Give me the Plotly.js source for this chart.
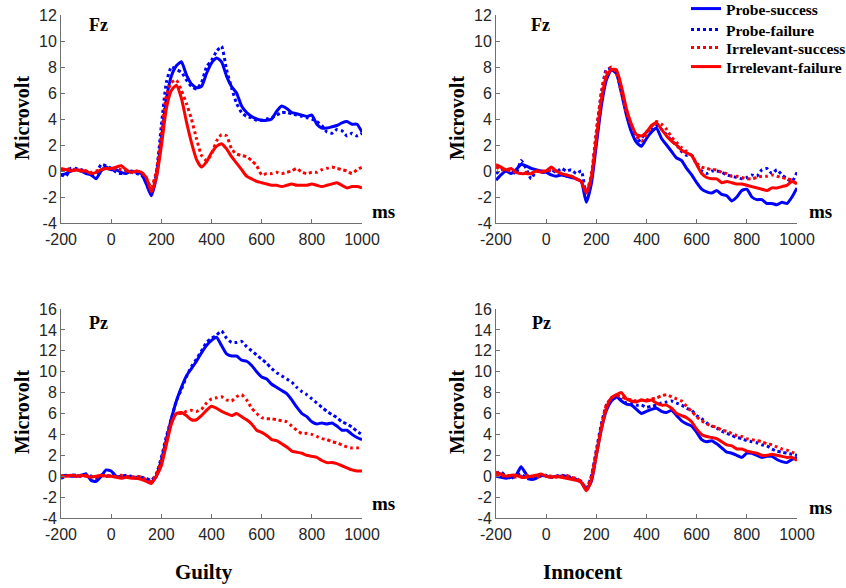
<!DOCTYPE html>
<html>
<head>
<meta charset="utf-8">
<script src="https://cdn.plot.ly/plotly-3.0.1.min.js"></script>
<style>html,body{margin:0;padding:0;background:#fff;}#chart{width:846px;height:588px;}</style>
</head>
<body>
<div id="chart"></div>
<script>
// time axis (ms)
const timeMs = [-200,-180,-160,-140,-120,-100,-80,-60,-40,-20,0,20,40,60,80,100,120,140,160,180,200,220,240,260,280,300,320,340,360,380,400,420,440,460,480,500,520,540,560,580,600,620,640,660,680,700,720,740,760,780,800,820,840,860,880,900,920,940,960,980,1000];

const seriesNames = ["Probe-success","Probe-failure","Irrelevant-success","Irrelevant-failure"];
const panelLabels = ["Fz","Fz","Pz","Pz"];
const groupLabels = ["Guilty","Innocent"];
const xTicks = [-200,0,200,400,600,800,1000];
const yTicksFz = [-4,-2,0,2,4,6,8,10,12];
const yTicksPz = [-4,-2,0,2,4,6,8,10,12,14,16];

// Guilty - Fz
const guiltyFzProbeSuccess = [-0.3,-0.2,0,0.1,0,-0.2,-0.3,-0.6,0,0.3, 0.1,0.1,-0.1,-0.2,0,-0.1,-0.2,-1.0,-1.9,-0.5, 2.4,5.5,7.3,8.1,8.4,7.4,6.7,6.4,6.5,7.5, 8.3,8.7,8.4,7.3,6.5,6.0,5.0,4.5,4.2,4.0, 3.9,3.9,4.0,4.6,5.0,4.8,4.5,4.4,4.3,4.2, 4.3,3.6,3.3,3.3,3.4,3.5,3.7,3.8,3.6,3.6, 3.0];
const guiltyFzProbeFailure = [-0.3,-0.4,0.2,0.2,0.1,0,-0.3,-0.2,0.5,0.4, 0.2,-0.1,-0.2,0,-0.1,-0.2,-0.3,-0.8,-1.7,-0.2, 3.5,6.8,8.0,7.8,7.6,7.0,6.5,6.3,6.8,8.0, 8.5,9.2,9.6,7.8,6.4,5.2,4.5,4.2,4.1,3.9, 3.9,4.0,4.1,4.3,4.5,4.5,4.4,4.3,4.2,4.1, 4.0,3.8,3.5,3.0,2.9,3.2,3.1,2.7,2.9,2.7, 2.9];
const guiltyFzIrrSuccess = [0.1,0.1,0.2,0,0.1,0,-0.1,0,0.1,0.2, 0.1,0.2,0.1,0,-0.1,0,-0.1,-0.5,-1.3,0, 2.8,5.8,6.8,7.0,6.2,5.2,4.0,2.5,1.2,0.8, 1.3,2.3,2.8,2.7,1.7,1.3,1.2,1.1,0.8,0.4, -0.3,-0.2,-0.2,-0.1,-0.2,-0.1,0,0.2,-0.1,-0.2, -0.1,-0.1,0.1,0.2,0.3,0.2,0.1,0,-0.2,0.1, 0.3];
const guiltyFzIrrFailure = [0.2,0.1,0,0.1,0,0,-0.2,-0.1,0.1,0.2, 0.2,0.3,0.4,0.1,-0.1,0,-0.1,-0.5,-1.6,-0.5, 1.9,4.8,6.2,6.6,5.6,3.8,2.2,0.9,0.3,0.7, 1.4,1.9,2.1,1.7,1.1,0.6,0.1,-0.4,-0.6,-0.8, -0.9,-1.0,-1.1,-1.1,-1.2,-1.1,-1.0,-1.1,-1.1,-1.1, -1.0,-1.1,-1.2,-1.1,-1.0,-0.9,-1.1,-1.3,-1.2,-1.2, -1.3];

// Innocent - Fz
const innocentFzProbeSuccess = [-0.7,-0.3,0,-0.2,0.1,0.5,0.4,0.2,0.1,0, -0.1,-0.3,-0.4,-0.3,-0.4,-0.5,-0.6,-0.8,-2.4,-1.0, 2,5,7,7.8,7.5,6,4.3,3.0,2.2,1.9, 2.5,3.0,3.3,2.5,2.0,1.5,1.0,0.8,0.2,-0.3, -0.9,-1.4,-1.6,-1.7,-1.5,-1.8,-1.9,-2.3,-2.0,-1.5, -1.4,-2.0,-2.2,-2.2,-2.5,-2.5,-2.6,-2.4,-2.5,-2.0, -1.3];
const innocentFzProbeFailure = [-0.2,0.1,0.1,0,-0.2,0.8,0.2,-0.6,0,-0.1, -0.1,0.1,-0.1,0.2,0,0.1,-0.2,0,-1.8,-0.5, 3,6,7.8,7.9,7.5,6.2,4.5,3.5,2.2,2.5, 3.0,3.2,3.5,3.2,2.8,2.3,2.0,1.5,1.2,1.2, 0.5,0,-0.2,0,0,-0.1,-0.3,-0.4,-0.5,-0.6, -0.5,-0.3,-0.4,0.1,0.2,-0.2,0.1,-0.3,-0.6,-0.8, -0.1];
const innocentFzIrrSuccess = [0.3,0.1,0.1,0,-0.1,-0.2,-0.1,-0.2,0,0, 0,0.1,0,-0.2,-0.3,-0.4,-0.6,-0.8,-1.6,-0.3, 3,6,7.7,8.0,7.6,6.0,4.5,3.5,2.7,2.3, 2.8,3.4,3.8,3.6,3.2,2.6,2.2,1.8,1.5,1.2, 0.6,0.3,0.2,0.1,0.1,-0.1,-0.2,-0.4,-0.4,-0.5, -0.6,-0.6,-0.5,-0.4,-0.4,-0.3,-0.4,-0.5,-0.6,-0.7, -1.0];
const innocentFzIrrFailure = [0.5,0.3,0.1,0.2,-0.1,-0.2,-0.2,-0.2,0,-0.1, 0,0.3,0,-0.2,-0.3,-0.4,-0.6,-0.8,-1.7,-0.5, 2.5,5.5,7.3,7.8,7.8,6.5,4.8,3.6,2.8,2.7, 3.0,3.5,3.7,3.2,2.7,2.3,2.0,1.6,1.4,1.2, 0.5,-0.2,-0.5,-0.6,-0.6,-0.9,-0.8,-0.9,-1.0,-1.0, -1.1,-1.2,-1.3,-1.4,-1.5,-1.3,-1.3,-1.2,-1.1,-0.8, -1.0];

// Guilty - Pz
const guiltyPzProbeSuccess = [0,0.1,0,0,0.1,0.2,-0.4,-0.5,0,0.6, 0.5,0,-0.1,0,-0.1,-0.2,-0.2,-0.4,-0.6,0, 1.5,3.5,5.5,7.2,8.5,9.6,10.3,11,11.8,12.5, 13,13.3,12.5,11.7,11.5,11.5,11.1,11,10.6,10.0, 9.5,9.3,8.8,8.5,8.2,7.9,7.3,6.6,6.0,5.7, 5.2,5.0,5.1,5.0,5.1,4.8,4.4,4.4,4.0,3.7, 3.5];
const guiltyPzProbeFailure = [-0.2,0,0.1,0.1,0,0.2,0,-0.2,0.1,0, 0.1,-0.1,0,0.1,0,-0.1,-0.1,-0.2,-0.4,0.2, 1.8,3.8,5.5,7.2,8.3,9.5,10.5,11.2,12,12.8, 13.2,13.5,13.9,13.2,12.8,12.8,12.9,12.4,12.0,11.6, 11.2,10.8,10.3,9.9,9.6,9.3,9.0,8.5,8.1,7.8, 7.4,7.0,6.6,6.2,5.9,5.6,5.2,5.0,4.7,4.3, 4.0];
const guiltyPzIrrSuccess = [0,0.1,0,0.1,0,0.1,0,-0.1,0,0.1, 0,0,0.1,0,-0.1,0,-0.1,-0.3,-0.5,0.2, 1.5,3.5,5.2,6.0,6.0,6.2,6.3,6.2,6.4,7.0, 7.4,7.5,7.6,7.3,7.2,7.6,7.8,7.3,6.5,6.0, 5.6,5.5,5.5,5.4,5.3,5.2,4.8,4.4,4.1,4.1, 4.0,3.8,3.6,3.5,3.3,3.2,3.0,2.8,2.7,2.7, 2.8];
const guiltyPzIrrFailure = [0,0,0.1,0,0.1,0,-0.1,0,0.1,0, 0,-0.1,-0.2,-0.1,-0.2,-0.2,-0.3,-0.5,-0.7,0, 1,3,5,6.0,6.1,5.8,5.4,5.4,5.8,6.3, 6.7,6.5,6.2,6.0,5.8,6.0,5.7,5.4,5.0,4.4, 4.2,3.9,3.5,3.4,3.1,2.8,2.4,2.3,2.2,2.0, 1.9,1.8,1.5,1.3,1.3,1.2,1.0,0.8,0.6,0.5, 0.5];

// Innocent - Pz
const innocentPzProbeSuccess = [0,-0.1,-0.2,-0.1,0.1,0.9,0.2,-0.3,-0.2,0.1, 0,-0.1,0,0,0,-0.2,-0.3,-0.6,-1.3,-0.5, 2,4.5,6.3,7.2,7.6,7.2,6.9,6.8,6.4,6.0, 6.2,6.4,6.5,6.2,6.1,6.3,5.8,5.3,5.0,4.8, 4.2,3.5,3.3,3.4,3.1,2.7,2.3,2.2,2.0,1.8, 2.2,2.2,2.0,1.8,1.9,1.9,1.6,1.4,1.3,1.6, 1.8];
const innocentPzProbeFailure = [0.3,0.4,0,-0.2,0,0.2,-0.2,-0.3,0,0, 0.1,-0.1,0,0.1,0,-0.1,-0.3,-0.5,-1.2,0, 2.5,5,6.8,7.4,7.5,7.3,7.0,7.0,6.8,6.8, 6.6,6.7,6.8,7.0,7.1,7.2,7.0,6.8,6.5,6.3, 5.8,5.5,5.1,4.8,4.6,4.3,4.1,3.9,3.7,3.6, 3.4,3.3,3.2,3.0,2.9,2.6,2.4,2.3,2.2,2.1, 2.0];
const innocentPzIrrSuccess = [0.1,0,0.1,0,-0.1,0,0.1,0,-0.1,0, 0.1,0,-0.1,0,0.1,-0.1,-0.2,-0.5,-1.2,0, 2.3,4.8,6.8,7.5,7.7,7.6,7.4,7.3,7.2,7.3, 7.3,7.4,7.5,7.7,7.8,7.6,7.4,7.2,6.7,6.2, 5.7,5.3,5.0,4.8,4.7,4.4,4.3,4.1,3.9,3.8, 3.6,3.5,3.4,3.3,3.1,3.0,2.8,2.6,2.5,2.3, 2.1];
const innocentPzIrrFailure = [0.4,0.2,0,0.1,0.1,-0.1,-0.1,0,0.1,0.2, 0,-0.1,0,-0.1,-0.2,-0.3,-0.4,-0.6,-1.4,-0.4, 2,4.5,6.5,7.5,7.8,8.0,7.4,7.2,7.1,7.3, 7.2,7.3,7.0,6.8,6.8,6.5,6.0,5.8,5.6,5.2, 4.5,4.0,3.8,3.7,3.6,3.3,3.0,2.9,2.6,2.6, 2.4,2.3,2.2,2.0,2.0,2.1,2.0,1.9,1.8,1.8, 1.5];

const panels = [
  {xa:"x",  ya:"y",  data:[guiltyFzProbeSuccess, guiltyFzProbeFailure, guiltyFzIrrSuccess, guiltyFzIrrFailure]},
  {xa:"x2", ya:"y2", data:[innocentFzProbeSuccess, innocentFzProbeFailure, innocentFzIrrSuccess, innocentFzIrrFailure]},
  {xa:"x3", ya:"y3", data:[guiltyPzProbeSuccess, guiltyPzProbeFailure, guiltyPzIrrSuccess, guiltyPzIrrFailure]},
  {xa:"x4", ya:"y4", data:[innocentPzProbeSuccess, innocentPzProbeFailure, innocentPzIrrSuccess, innocentPzIrrFailure]}
];
const styles = [
  {color:"#0000ff", dash:"solid"},
  {color:"#0000ff", dash:"dot"},
  {color:"#ff0000", dash:"dot"},
  {color:"#ff0000", dash:"solid"}
];
const legendIds = ["legend", "legend2", "legend3", "legend4"];

const traces = [];
panels.forEach((p, pi) => {
  p.data.forEach((vals, si) => {
    traces.push({
      type: "scatter", mode: "lines",
      x: timeMs, y: vals,
      xaxis: p.xa, yaxis: p.ya,
      name: seriesNames[si],
      legend: legendIds[si],
      showlegend: pi === 0,
      line: {color: styles[si].color, dash: styles[si].dash, width: 3, shape: "spline", smoothing: 0.5}
    });
  });
});

const tickFont = {family: "Liberation Sans, Arial, sans-serif", size: 16, color: "#262626"};
const tickText = v => (v < 0 ? "-" + Math.abs(v) : String(v));
function xAxis(dom, anchor) {
  return {domain: dom, anchor: anchor, range: [-200, 1000], tickvals: xTicks, ticktext: xTicks.map(tickText),
    showline: true, linecolor: "#707070", linewidth: 1, ticks: "inside", ticklen: 4, tickcolor: "#707070",
    ticklabelstandoff: 2,
    showgrid: false, zeroline: false, tickfont: tickFont, fixedrange: true};
}
function yAxis(dom, anchor, ticks) {
  return {domain: dom, anchor: anchor, range: [ticks[0], ticks[ticks.length-1]], tickvals: ticks, ticktext: ticks.map(tickText),
    showline: true, linecolor: "#707070", linewidth: 1, ticks: "inside", ticklen: 4, tickcolor: "#707070",
    showgrid: false, zeroline: false, tickfont: tickFont, fixedrange: true};
}

const W = 846, H = 588;
const px = v => v / W, py = v => 1 - v / H;
const boldSerif = (size) => ({family: "Liberation Serif, Times New Roman, serif", size: size, color: "#000", weight: "bold"});

const annotations = [];
function ann(text, x, y, size, angle) {
  annotations.push({text: text, xref: "paper", yref: "paper", x: px(x), y: py(y), xanchor: "center", yanchor: "middle",
    showarrow: false, font: boldSerif(size), textangle: angle || 0});
}
ann(panelLabels[0], 98, 25, 18);
ann(panelLabels[1], 540, 25, 18);
ann(panelLabels[2], 98, 323, 18);
ann(panelLabels[3], 541, 323, 18);
ann("ms", 383, 211, 19);
ann("ms", 820, 211, 19);
ann("ms", 383, 503, 19);
ann("ms", 820, 507, 19);
ann("Microvolt", 22, 118, 20, -90);
ann("Microvolt", 457, 118, 20, -90);
ann("Microvolt", 22, 412, 20, -90);
ann("Microvolt", 457, 412, 20, -90);
ann(groupLabels[0], 204, 572, 21);
ann(groupLabels[1], 582, 572, 21);

// legend row centres (px from top); each legend anchored at its top, ~18px above its row centre
const legendRowsPx = [10, 31, 49, 68];
function legendAt(rowPx) {
  return {x: px(686), y: py(rowPx - 18), xanchor: "left", yanchor: "top", bgcolor: "rgba(0,0,0,0)",
    font: boldSerif(15.5), itemwidth: 30};
}

const layout = {
  width: W, height: H,
  margin: {l: 0, r: 0, t: 0, b: 0, autoexpand: false},
  paper_bgcolor: "#fff", plot_bgcolor: "#fff",
  showlegend: true,
  legend: legendAt(legendRowsPx[0]),
  legend2: legendAt(legendRowsPx[1]),
  legend3: legendAt(legendRowsPx[2]),
  legend4: legendAt(legendRowsPx[3]),
  xaxis: xAxis([px(61), px(362)], "y"),
  yaxis: yAxis([py(223), py(15)], "x", yTicksFz),
  xaxis2: xAxis([px(496), px(797)], "y2"),
  yaxis2: yAxis([py(223), py(15)], "x2", yTicksFz),
  xaxis3: xAxis([px(61), px(362)], "y3"),
  yaxis3: yAxis([py(518), py(309)], "x3", yTicksPz),
  xaxis4: xAxis([px(496), px(797)], "y4"),
  yaxis4: yAxis([py(518), py(309)], "x4", yTicksPz),
  annotations: annotations
};

Plotly.newPlot("chart", traces, layout, {displayModeBar: false, staticPlot: true});
</script>
</body>
</html>
